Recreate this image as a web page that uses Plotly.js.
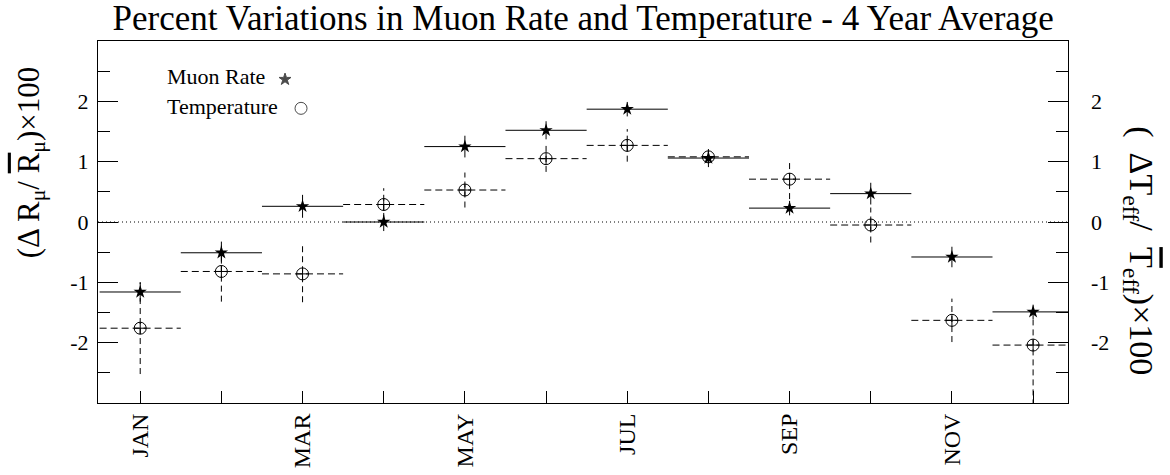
<!DOCTYPE html>
<html><head><meta charset="utf-8">
<script src="https://cdn.plot.ly/plotly-3.0.1.min.js"></script>
<style>html,body{margin:0;padding:0;background:#fff}#chart{width:1170px;height:475px}</style>
</head><body><div id="chart"></div>
<script>
// ---- data ----
const months = [1,2,3,4,5,6,7,8,9,10,11,12];
const monthLabels = ['JAN','FEB','MAR','APR','MAY','JUN','JUL','AUG','SEP','OCT','NOV','DEC'];
const muonRate = [-1.16, -0.51, 0.26, 0.00, 1.25, 1.52, 1.87, 1.06, 0.23, 0.47, -0.58, -1.49];
const muonErr  = [0.16, 0.18, 0.19, 0.15, 0.18, 0.15, 0.12, 0.15, 0.12, 0.18, 0.17, 0.12];
const temperature = [-1.76, -0.82, -0.86, 0.29, 0.53, 1.05, 1.27, 1.08, 0.71, -0.05, -1.63, -2.04];
const tempErrUp   = [0.76, 0.50, 0.47, 0.27, 0.29, 0.22, 0.27, 0.10, 0.33, 0.29, 0.36, 0.43];
const tempErrDown = [0.76, 0.50, 0.47, 0.27, 0.29, 0.22, 0.27, 0.10, 0.33, 0.29, 0.36, 1.00];
const monthHalfWidth = 0.5;
const yTicks = [-2, -1, 0, 1, 2];
const yTickLabels = ['-2', '-1', '0', '1', '2'];
const yMinorTicks = [-2.5, -1.5, -0.5, 0.5, 1.5, 2.5];
const legendNames = ['Muon Rate', 'Temperature'];

// labelled months (odd) and unlabelled months (even, minor ticks)
const labelledMonths = months.filter((m, i) => i % 2 === 0);
const labelledNames = monthLabels.filter((m, i) => i % 2 === 0);
const otherMonths = months.filter((m, i) => i % 2 === 1);

// ---- build dashed error-bar segments for temperature ----
const hx = [], hy = [], vx = [], vy = [];
months.forEach((m, i) => {
  hx.push(m - monthHalfWidth, m + monthHalfWidth, null);
  hy.push(temperature[i], temperature[i], null);
  vx.push(m, m, null);
  vy.push(temperature[i] - tempErrDown[i], temperature[i] + tempErrUp[i], null);
});

const serif = 'Liberation Serif, Times New Roman, serif';
const black = '#000';

const traces = [
  { x: hx, y: hy, yaxis: 'y2', mode: 'lines', line: {color: black, width: 1, dash: '7px,4px'}, hoverinfo: 'skip', showlegend: false },
  { x: vx, y: vy, yaxis: 'y2', mode: 'lines', line: {color: black, width: 1, dash: '6px,4px'}, hoverinfo: 'skip', showlegend: false },
  { x: months, y: muonRate, yaxis: 'y', mode: 'markers', name: legendNames[0],
    marker: {symbol: 'star', size: 10, color: black},
    error_x: {type: 'constant', value: monthHalfWidth, width: 0, thickness: 1, color: black},
    error_y: {type: 'data', array: muonErr, width: 0, thickness: 1, color: black},
    showlegend: false },
  { x: months, y: temperature, yaxis: 'y2', mode: 'markers', name: legendNames[1],
    marker: {symbol: 'circle-cross-open', size: 12, color: black, line: {width: 1, color: black}},
    showlegend: false },
  // legend symbols (in an overlay 0..1 frame)
  { x: [0.1928, 0.2093], y: [0.894, 0.814], xaxis: 'x3', yaxis: 'y3', mode: 'markers',
    marker: {symbol: ['star', 'circle-open'], size: [9, 12], color: black, line: {width: 1, color: black}},
    hoverinfo: 'skip', showlegend: false }
];

const layout = {
  width: 1170, height: 475,
  margin: {l: 98, r: 102, t: 41, b: 72},
  paper_bgcolor: '#fff', plot_bgcolor: '#fff',
  showlegend: false,
  font: {family: serif, color: black},
  title: {text: 'Percent Variations in Muon Rate and Temperature - 4 Year Average',
    font: {family: serif, size: 35, color: black}, x: 0.4985, xanchor: 'center', y: 0.963, yanchor: 'middle', yref: 'container'},
  xaxis: {
    range: [0.48, 12.43], tickmode: 'array', tickvals: labelledMonths, ticktext: labelledNames,
    ticks: 'inside', ticklen: 12, tickwidth: 1, tickcolor: black,
    minor: {tickmode: 'array', tickvals: otherMonths, ticks: 'inside', ticklen: 12, tickwidth: 1, tickcolor: black, showgrid: false},
    tickangle: -90, tickfont: {family: serif, size: 24, color: black},
    showline: true, linecolor: black, linewidth: 1, mirror: true,
    showgrid: false, zeroline: false
  },
  yaxis: {
    range: [-3, 3], tickmode: 'array', tickvals: yTicks, ticktext: yTickLabels,
    ticks: 'inside', ticklen: 20, tickwidth: 1, tickcolor: black,
    minor: {tickmode: 'array', tickvals: yMinorTicks, ticks: 'inside', ticklen: 12, tickwidth: 1, tickcolor: black, showgrid: false},
    showline: true, linecolor: black, linewidth: 1, mirror: 'ticks',
    showgrid: false, zeroline: false, ticklabelstandoff: 4,
    tickfont: {family: serif, size: 22, color: black}
  },
  yaxis2: {
    range: [-3, 3], overlaying: 'y', side: 'right', tickmode: 'array', tickvals: yTicks, ticktext: yTickLabels,
    ticks: '', showline: false, showgrid: false, zeroline: false, ticklabelstandoff: 22,
    tickfont: {family: serif, size: 22, color: black}
  },
  xaxis3: {overlaying: 'x', anchor: 'y3', range: [0, 1], visible: false, fixedrange: true},
  yaxis3: {overlaying: 'y', anchor: 'x3', range: [0, 1], visible: false, fixedrange: true},
  shapes: [
    {type: 'line', xref: 'paper', x0: 0, x1: 1, yref: 'y', y0: 0, y1: 0,
     line: {color: black, width: 1, dash: '1px,3px'}, layer: 'below'}
  ],
  annotations: [
    {text: legendNames[0], xref: 'paper', yref: 'paper', x: 0.069, y: 0.9006, xanchor: 'left', yanchor: 'middle',
     showarrow: false, font: {family: serif, size: 22, color: black}},
    {text: legendNames[1], xref: 'paper', yref: 'paper', x: 0.069, y: 0.8177, xanchor: 'left', yanchor: 'middle',
     showarrow: false, font: {family: serif, size: 22, color: black}},
    {text: "(Δ R<sub>μ</sub>/ <span style='text-decoration:overline'>R</span><sub>μ</sub>)×100",
     xref: 'paper', yref: 'paper', x: -0.069, y: 0.665, xanchor: 'center', yanchor: 'middle', textangle: -90,
     showarrow: false, font: {family: serif, size: 31, color: black}},
    {text: "(  ΔT<sub>eff</sub>/  <span style='text-decoration:overline'>T</span><sub>eff</sub>)×100",
     xref: 'paper', yref: 'paper', x: 1.073, y: 0.42, xanchor: 'center', yanchor: 'middle', textangle: 90,
     showarrow: false, font: {family: serif, size: 34, color: black}}
  ]
};

Plotly.newPlot('chart', traces, layout, {staticPlot: true, displayModeBar: false});
</script>
</body></html>
